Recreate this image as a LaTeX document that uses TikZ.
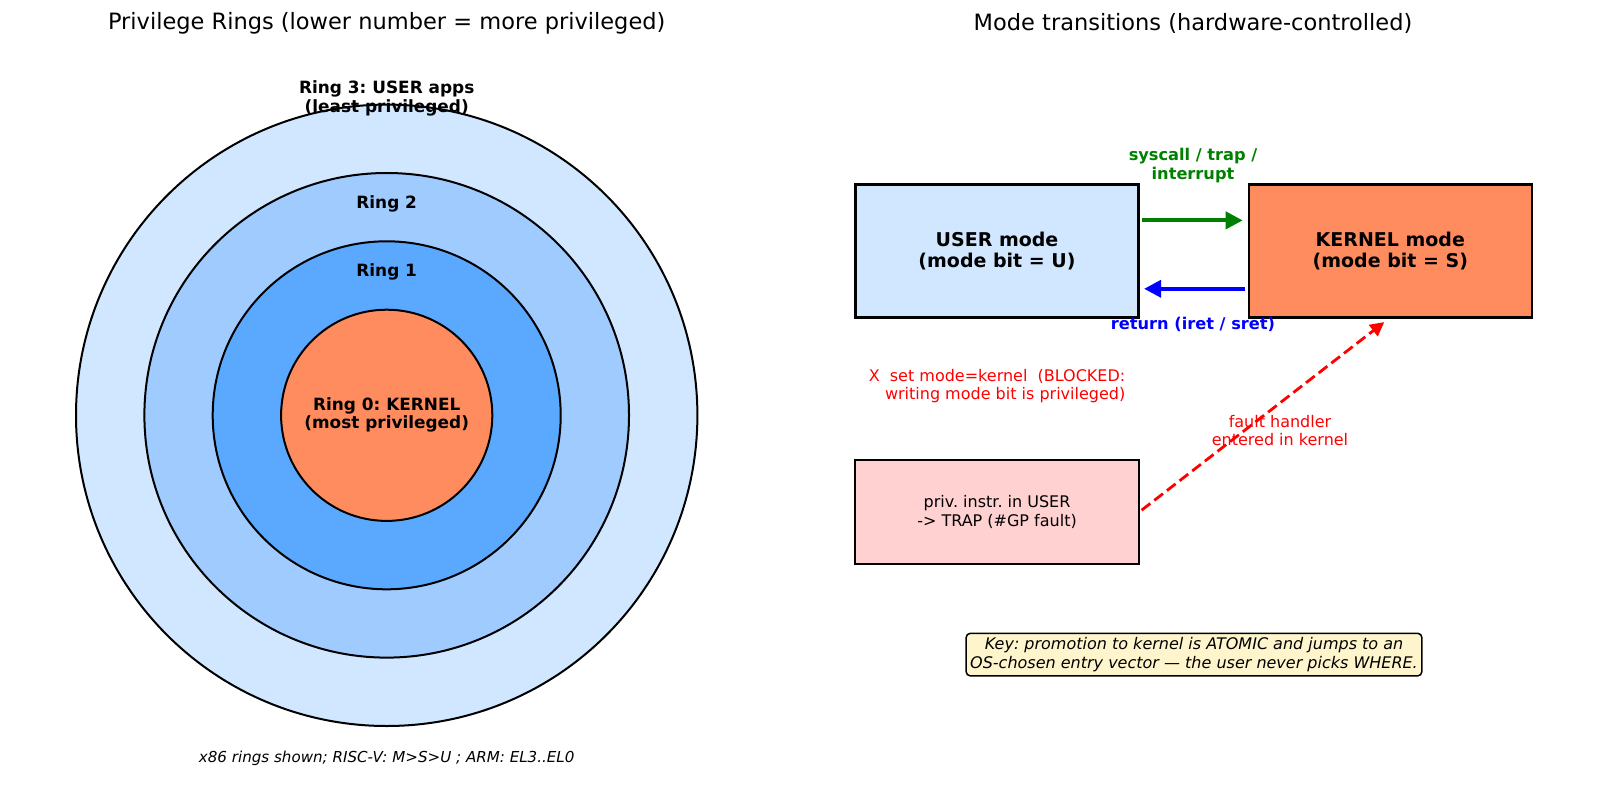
\documentclass[tikz,border=0pt]{standalone}
\usepackage{fontspec}
\setmainfont{DejaVu Sans}
\usetikzlibrary{arrows.meta}
\frenchspacing
\definecolor{ringA}{HTML}{D0E7FF}
\definecolor{ringB}{HTML}{A0CBFF}
\definecolor{ringC}{HTML}{5BA8FF}
\definecolor{ringD}{HTML}{FF8C5E}
\definecolor{pinkbox}{HTML}{FFD1D1}
\definecolor{keybg}{HTML}{FFF5CC}
\definecolor{mgreen}{HTML}{008000}
\definecolor{mblue}{HTML}{0000FF}
\definecolor{mred}{HTML}{FF0000}
\tikzset{
  ring/.style={draw=black, line width=2pt},
  ttl/.style={font=\fontsize{22.5}{26}\selectfont},
  ringlbl/.style={font=\fontsize{16.9}{18.5}\selectfont\bfseries, align=center},
  modebox/.style={draw=black, line width=2.2pt, minimum width=283pt, minimum height=133pt, font=\fontsize{19}{21.5}\selectfont\bfseries, align=center},
  arrlbl/.style={font=\fontsize{16.2}{18.5}\selectfont\bfseries, align=center},
  smalltxt/.style={font=\fontsize{16}{18.8}\selectfont, align=center},
  bigarrow/.style={line width=3.8pt, -{Triangle[length=17pt,width=17pt]}},
}
\begin{document}
\begin{tikzpicture}[x=1pt,y=-1pt]
\useasboundingbox (0,0) rectangle (1600,802);
% titles
\node[ttl] (t1) at (386.7,23) {Privilege Rings (lower number = more privileged)};
\node[ttl] (t2) at (1193,23) {Mode transitions (hardware-controlled)};
% rings
\draw[ring, fill=ringA] (386.7,415.3) circle[radius=310.7];
\draw[ring, fill=ringB] (386.7,415.3) circle[radius=242.3];
\draw[ring, fill=ringC] (386.7,415.3) circle[radius=174];
\draw[ring, fill=ringD] (386.7,415.3) circle[radius=105.6];
\node[ringlbl] (r3) at (386.7,98.5) {Ring 3: USER apps\\(least privileged)};
\node[ringlbl] (r2) at (386.7,203.5) {Ring 2};
\node[ringlbl] (r1) at (386.7,271.5) {Ring 1};
\node[ringlbl] (r0) at (386.7,415) {Ring 0: KERNEL\\(most privileged)};
\node[font=\fontsize{15.1}{17}\selectfont\itshape] (cap) at (386.7,758.5) {x86 rings shown; RISC-V: M>S>U ; ARM: EL3..EL0};
% mode boxes
\node[modebox, fill=ringA] (user) at (997,251) {USER mode\\(mode bit = U)};
\node[modebox, fill=ringD] (kern) at (1390.3,251) {KERNEL mode\\(mode bit = S)};
\draw[bigarrow, mgreen] ([yshift=30.6pt,xshift=2pt]user.east) -- ([yshift=30.6pt,xshift=-5pt]kern.west);
\draw[bigarrow, mblue] ([yshift=-37.8pt,xshift=-3pt]kern.west) -- ([yshift=-37.8pt,xshift=4.5pt]user.east);
\node[arrlbl, mgreen] (glbl) at (1193,165.5) {syscall / trap /\\interrupt};
\node[arrlbl, mblue] (blbl) at (1193,324.5) {return (iret / sret)};
% blocked text
\node[smalltxt, mred, align=right, anchor=east, inner sep=0pt] (blk) at (1125.5,386) {X\ \ set mode=kernel\ \ (BLOCKED:\\writing mode bit is privileged)};
% priv box
\node[draw=black, line width=1.5pt, fill=pinkbox, minimum width=283.7pt, minimum height=104pt, font=\fontsize{16}{18.8}\selectfont, align=center] (priv) at (997,512.2) {priv. instr. in USER\\-> TRAP (\#GP fault)};
\draw[mred, line width=2.8pt, dash pattern=on 11pt off 5pt, -{Triangle[length=14pt,width=14pt]}] ([xshift=2pt,yshift=2pt]priv.east) -- ([xshift=-6pt,yshift=-3.5pt]kern.south);
\node[smalltxt, mred] (flt) at (1280,430.5) {fault handler\\entered in kernel};
% key
\node[draw=black, line width=1.5pt, fill=keybg, rounded corners=4pt, inner sep=4pt, font=\fontsize{16}{19}\selectfont\itshape, align=center] (key) at (1194,654.6) {Key: promotion to kernel is ATOMIC and jumps to an\\OS-chosen entry vector — the user never picks WHERE.};
\end{tikzpicture}
\end{document}
